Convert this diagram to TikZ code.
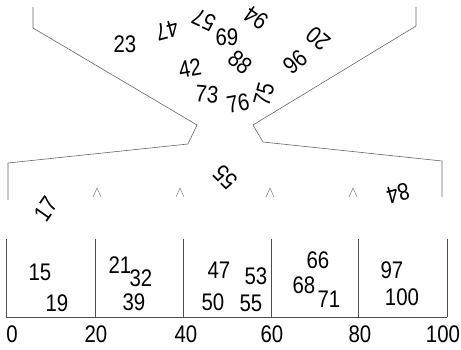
\documentclass[tikz,border=0pt]{standalone}
\usepackage{fontspec}
\setmainfont[FakeStretch=0.85]{Liberation Sans}
\begin{document}
\begin{tikzpicture}[x=1pt,y=-1pt,
  wall/.style={draw=black!60,line width=0.6pt},
  num/.style={inner sep=0pt,font=\fontsize{24}{24}\selectfont},
  caret/.style={draw=black!55,line width=0.5pt}]
\useasboundingbox (0,0) rectangle (461,349);
% funnel walls
\draw[wall] (33,7) -- (33,28) -- (197,125) -- (188,144) -- (8,163) -- (8,200);
\draw[wall] (416,7) -- (416,26) -- (253,125) -- (263,142) -- (442,161) -- (442,197);
% carets
\foreach \cx in {97,180,270,353}
  \draw[caret] (\cx-4,197) -- (\cx,188) -- (\cx+4,197);
% bins
\draw[wall,draw=black!70] (6,317) -- (447,317);
\foreach \bx in {6,95,183,271,358,447}
  \draw[wall,draw=black!70] (\bx,239) -- (\bx,317);
% numbers in the funnel
\node[num] (n23) at (125,44) {23};
\node[num,rotate=195] (n47) at (167,30) {47};
\node[num,rotate=155] (n57) at (204,20) {57};
\node[num] (n69) at (227,37) {69};
\node[num,rotate=145] (n94) at (256,18) {94};
\node[num,rotate=140] (n20) at (318,39) {20};
\node[num,rotate=10] (n42) at (190,68) {42};
\node[num,rotate=-40] (n88) at (240,62) {88};
\node[num,rotate=40] (n96) at (295,62) {96};
\node[num,rotate=-5] (n73) at (207,94) {73};
\node[num,rotate=10] (n76) at (238,103) {76};
\node[num,rotate=75] (n75) at (264,94) {75};
\node[num,rotate=135] (n55a) at (225,177) {55};
\node[num,rotate=55] (n17) at (46,209) {17};
\node[num,rotate=195] (n84) at (398,193) {84};
% numbers in the bins
\node[num] (n15) at (40,272) {15};
\node[num] (n19) at (57,303) {19};
\node[num] (n21) at (120,265) {21};
\node[num] (n32) at (141,278) {32};
\node[num] (n39) at (134,302) {39};
\node[num] (n47b) at (219,270) {47};
\node[num] (n50) at (213,302) {50};
\node[num] (n53) at (256,276) {53};
\node[num] (n55b) at (251,303) {55};
\node[num] (n66) at (318,260) {66};
\node[num] (n68) at (304,285) {68};
\node[num] (n71) at (329,299) {71};
\node[num] (n97) at (392,270) {97};
\node[num] (n100) at (402,297) {100};
% axis labels
\node[num] (a0) at (12,334) {0};
\node[num] (a20) at (96,334) {20};
\node[num] (a40) at (186,334) {40};
\node[num] (a60) at (272,334) {60};
\node[num] (a80) at (360,334) {80};
\node[num] (a100) at (443,334) {100};
\end{tikzpicture}
\end{document}
